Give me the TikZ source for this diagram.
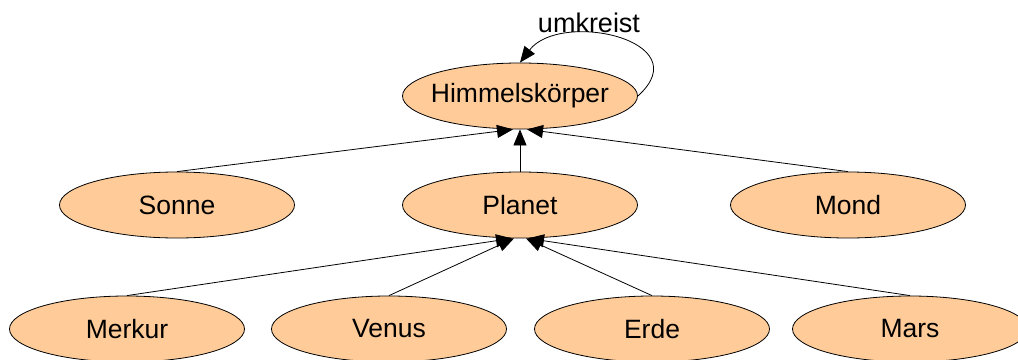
\documentclass[tikz,border=0pt]{standalone}
\usepackage{fontspec}
\setmainfont{Liberation Sans}
\usetikzlibrary{shapes.geometric,arrows.meta}
\definecolor{peach}{HTML}{FFCC99}
\begin{document}
\begin{tikzpicture}[x=1pt,y=-1pt,
  ent/.style={ellipse,draw=black,line width=0.8pt,fill=peach,minimum width=235pt,minimum height=66pt,inner sep=0pt},
  lbl/.style={font=\fontsize{26.5}{30}\selectfont},
  arr/.style={line width=0.8pt,-{Triangle[length=16pt,width=13pt]}}]
\useasboundingbox (0,0) rectangle (1018,359);
\clip (0,0) rectangle (1018,359);
\node[ent,label={[lbl]center:Himmelskörper}] (H) at (520,96) {};
\node[ent,label={[lbl]center:Sonne}] (S) at (177,205) {};
\node[ent,label={[lbl]center:Planet}] (P) at (520,205) {};
\node[ent,label={[lbl]center:Mond}] (M) at (848,205) {};
\node[ent,label={[lbl]center:Merkur}] (Me) at (127,329) {};
\node[ent,label={[lbl]center:Venus}] (V) at (389,329) {};
\node[ent,label={[lbl]center:Erde}] (E) at (652,329) {};
\node[ent,label={[lbl]center:Mars}] (Ma) at (910,329) {};
\draw[arr] (S.north) -- ([xshift=-7pt]H.south);
\draw[arr] (P.north) -- (H.south);
\draw[arr] (M.north) -- ([xshift=7pt]H.south);
\draw[arr] (Me.north) -- ([xshift=-8pt]P.south);
\draw[arr] (V.north) -- ([xshift=-6pt]P.south);
\draw[arr] (E.north) -- ([xshift=6pt]P.south);
\draw[arr] (Ma.north) -- ([xshift=8pt]P.south);
\draw[arr] (H.east) .. controls (700,40) and (560,10) .. (H.north);
\node[lbl,font=\fontsize{27}{30}\selectfont] (UL) at (589,23) {umkreist};
\end{tikzpicture}
\end{document}
